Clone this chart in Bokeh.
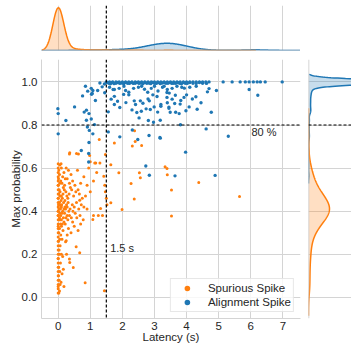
import numpy as np
from bokeh.plotting import figure
from bokeh.models import Span, Label, Legend, LegendItem, Range1d, FixedTicker, NumeralTickFormatter
from bokeh.layouts import column, row
from bokeh.embed import file_html
from bokeh.resources import INLINE

# ---------------- data ----------------
# spurious spikes scattered in the plane (one spike each)
spur_x = [
    0.02, 0.04, 0.0, 0.06, 0.03, 0.09, 0.01, 0.12, 0.05, 0.02, 0.07, 0.0, 0.04, 0.1, 0.03, 0.06, 0.01, 0.05, 0.08, 0.02,
    0.04, 0.0, 0.07, 0.03, 0.0, 0.05, 0.02, 0.08, 0.01, 0.04, 0.0, 0.06, 0.02, 0.03, 0.0, 0.05, 0.01, 0.04, 0.02, 0.0,
    0.1, 0.18, 0.25, 0.32, 0.14, 0.4, 0.6, 0.22, 0.8,
    0.08, 0.12, 0.2, 0.28, 0.35, 0.45, 0.52, 0.7, 0.16, 0.38, 0.9, 0.62,
    0.06, 0.1, 0.15, 0.19, 0.24, 0.3, 0.34, 0.42, 0.48, 0.55, 0.66, 0.75, 0.13, 0.27, 0.85, 1.0, 0.09, 0.21,
    0.05, 0.11, 0.17, 0.21, 0.26, 0.31, 0.37, 0.44, 0.5, 0.57, 0.64, 0.72, 0.8, 0.07, 0.14, 0.23, 0.33, 0.46, 0.9, 0.1, 0.18, 0.28,
    0.04, 0.08, 0.12, 0.16, 0.2, 0.28, 0.35, 0.41, 0.53, 0.68, 0.06, 0.18, 0.3, 0.45, 0.58, 0.78, 0.1, 0.24,
    0.1, 0.15, 0.22, 0.32, 0.5, 0.4, 0.62, 0.28, 0.7, 0.13,
    0.23, 0.56, 0.67, 0.35, 0.36, 0.47, 0.84, 1.44, 0.25, 0.14, 0.18, 0.26, 0.12, 0.16,
    1.17, 1.3, 1.64, 1.89, 2.53, 2.56, 3.4, 3.33, 3.39, 2.27, 2.37, 1.99, 1.64, 1.42, 1.45, 1.47, 1.5, 1.52, 1.32, 1.1,
    1.25, 1.38, 1.08, 0.67, 4.38, 3.53, 5.65, 3.53, 0.36, 0.98, 0.63, 1.47, 1.28, 1.75, 2.4, 2.31, 2.6, 2.38, 1.0, 1.2,
    1.1, 0.95, 0.57, 1.14, 0.05, 0.09, 0.35,
]
spur_y = [
    0.02, 0.03, 0.05, 0.06, 0.08, 0.07, 0.1, 0.11, 0.12, 0.14, 0.16, 0.18, 0.2, 0.2, 0.22, 0.24, 0.26, 0.27, 0.29, 0.3,
    0.32, 0.33, 0.34, 0.36, 0.38, 0.39, 0.41, 0.42, 0.43, 0.44, 0.46, 0.47, 0.48, 0.5, 0.52, 0.53, 0.55, 0.57, 0.59, 0.4,
    0.6, 0.58, 0.6, 0.59, 0.56, 0.57, 0.59, 0.55, 0.56,
    0.54, 0.53, 0.52, 0.55, 0.53, 0.54, 0.52, 0.53, 0.51, 0.51, 0.52, 0.5,
    0.49, 0.47, 0.48, 0.5, 0.49, 0.46, 0.48, 0.5, 0.47, 0.49, 0.48, 0.46, 0.46, 0.47, 0.47, 0.49, 0.45, 0.45,
    0.43, 0.43, 0.44, 0.42, 0.43, 0.44, 0.41, 0.43, 0.42, 0.44, 0.41, 0.43, 0.42, 0.41, 0.4, 0.41, 0.4, 0.4, 0.41, 0.42, 0.41, 0.42,
    0.37, 0.38, 0.39, 0.37, 0.39, 0.38, 0.38, 0.37, 0.39, 0.38, 0.36, 0.35, 0.36, 0.35, 0.37, 0.36, 0.36, 0.37,
    0.33, 0.31, 0.34, 0.32, 0.33, 0.3, 0.31, 0.29, 0.34, 0.34,
    0.258, 0.235, 0.207, 0.178, 0.162, 0.139, 0.068, 0.031, 0.263, 0.19, 0.05, 0.2, 0.27, 0.13,
    0.624, 0.624, 0.615, 0.578, 0.578, 0.555, 0.569, 0.606, 0.598, 0.529, 0.457, 0.408, 0.439, 0.562, 0.52, 0.49, 0.46, 0.43, 0.413, 0.38,
    0.38, 0.38, 0.362, 0.451, 0.533, 0.498, 0.468, 0.378, 0.671, 0.659, 0.665, 0.663, 0.733, 0.717, 0.723, 0.703, 0.705, 0.773, 0.63, 0.58,
    0.54, 0.6, 0.668, 0.624, 0.614, 0.62, 0.665,
]
# spurious spikes stacked at zero latency (probability, number of overlapping spikes)
stack_latency = 0.0
spur_stack_y = [0.02, 0.04, 0.06, 0.08, 0.10, 0.12, 0.14, 0.16, 0.18, 0.20, 0.22, 0.24, 0.26, 0.28, 0.30, 0.32,
                0.34, 0.36, 0.38, 0.40, 0.42, 0.44, 0.46, 0.48, 0.50, 0.52, 0.54, 0.56, 0.58, 0.60, 0.62]
spur_stack_n = [5, 5, 5, 5, 6, 6, 6, 6, 8, 10, 11, 13, 16, 22, 32, 45,
                61, 80, 99, 112, 112, 99, 83, 64, 48, 35, 26, 19, 14, 10, 6]

# alignment spikes scattered in the plane (one spike each)
align_x = [
    0.85, 1.03, 1.08, 0.76, 1.04, 1.23, 1.37, 1.45, 1.16, -0.01, 0.0, 0.51, 0.81, 0.88, 0.96, 1.03, 0.88, 0.24, 1.13, 0.91,
    0.97, 1.08, 0.0, 0.96, 0.72, 1.44, 1.3, 0.95, 0.95, 0.92, 1.06,
    1.52, 1.58, 1.63, 1.68, 1.74, 1.8, 1.86, 1.92, 1.98, 2.04, 2.1, 2.16, 2.22, 2.28, 2.34, 2.4, 2.46, 2.52, 2.58, 2.64,
    2.7, 2.76, 2.82, 2.88, 2.94, 3.0, 3.06, 3.12, 3.18, 3.24, 3.3, 3.36, 3.42, 3.48, 3.54, 3.6, 3.66, 3.72, 3.78, 3.84,
    3.9, 3.96, 4.02, 4.1, 4.2, 4.3, 4.4, 4.5, 4.62,
    1.6, 1.75, 1.9, 2.05, 2.2, 2.35, 2.5, 2.69, 2.79, 2.9, 3.11, 3.25, 3.4, 3.55, 3.7, 3.93, 4.1, 4.3, 4.7, 4.93,
    5.95, 1.71, 2.6, 3.0, 3.85, 2.1, 3.3,
    1.56, 1.75, 1.92, 1.75, 2.04, 2.11, 2.37, 2.41, 2.45, 2.56, 2.59, 2.64, 2.8, 2.52, 2.74, 2.87, 2.84, 2.97, 2.81, 2.99,
    3.08, 3.18, 3.2, 3.39, 3.45, 3.46, 4.29, 4.18, 4.45, 4.33, 4.08, 3.98, 3.92, 3.82, 3.8, 3.65, 3.63, 3.66, 3.77, 3.49,
    3.4, 3.45, 3.2, 3.39, 4.65, 4.77, 6.22, 2.2, 1.65, 2.95, 3.55, 4.0, 2.3, 3.1, 1.85,
    1.56, 1.92, 3.17, 2.83, 2.31, 2.48, 3.81, 4.61, 5.3, 3.97, 3.18, 2.73, 2.84, 3.64, 4.89,
]
align_y = [
    0.98, 0.97, 0.96, 0.935, 0.943, 0.96, 0.977, 0.95, 0.914, 0.876, 0.853, 0.884, 0.86, 0.869, 0.853, 0.828, 0.822, 0.821, 0.802, 0.791,
    0.775, 0.759, 0.759, 0.719, 0.682, 0.99, 0.995, 0.668, 0.628, 0.957, 0.946,
    0.997, 0.994, 0.991, 0.997, 0.992, 0.994, 0.997, 0.993, 0.995, 0.991, 0.997, 0.994, 0.993, 0.997, 0.993, 0.994, 0.997, 0.993, 0.995, 0.991,
    0.997, 0.994, 0.995, 0.992, 0.997, 0.994, 0.993, 0.997, 0.992, 0.995, 0.997, 0.994, 0.994, 0.997, 0.993, 0.994, 0.994, 0.997, 0.994, 0.991,
    0.997, 0.994, 0.993, 0.997, 0.994, 0.993, 0.997, 0.994, 0.993,
    0.975, 0.965, 0.97, 0.98, 0.952, 0.97, 0.975, 0.966, 0.952, 0.97, 0.958, 0.975, 0.965, 0.97, 0.98, 0.971, 0.975, 0.98, 0.969, 0.96,
    0.965, 0.965, 0.98, 0.98, 0.975, 0.96, 0.98,
    0.861, 0.933, 0.881, 0.895, 0.942, 0.904, 0.912, 0.895, 0.858, 0.912, 0.864, 0.901, 0.921, 0.833, 0.875, 0.872, 0.912, 0.813, 0.821, 0.884,
    0.932, 0.822, 0.895, 0.928, 0.883, 0.948, 0.931, 0.921, 0.903, 0.873, 0.884, 0.866, 0.928, 0.914, 0.897, 0.938, 0.9, 0.859, 0.853, 0.859,
    0.903, 0.878, 0.887, 0.951, 0.954, 0.859, 0.938, 0.94, 0.92, 0.94, 0.92, 0.94, 0.87, 0.86, 0.91,
    0.768, 0.745, 0.742, 0.751, 0.777, 0.733, 0.801, 0.782, 0.748, 0.674, 0.739, 0.61, 0.567, 0.564, 0.566,
]
# alignment spikes stacked at the maximum probability (latency, number of overlapping spikes)
sat_prob = 1.0
align_sat_x = [1.5, 1.6, 1.7, 1.8, 1.9, 2.0, 2.1, 2.2, 2.3, 2.4, 2.5, 2.6, 2.7, 2.8, 2.9, 3.0, 3.1, 3.2, 3.3, 3.4,
               3.5, 3.6, 3.7, 3.8, 3.9, 4.0, 4.1, 4.2, 4.3, 4.4, 4.5, 4.6, 4.7,
               5.14, 5.42, 5.67, 5.83, 5.95, 6.08, 6.2, 6.3, 6.45, 6.98]
align_sat_n = [2, 2, 2, 2, 2, 3, 3, 5, 6, 8, 11, 16, 19, 24, 29, 35, 38, 42, 45, 45,
               45, 42, 38, 34, 29, 24, 19, 14, 11, 8, 5, 3, 2,
               2, 2, 3, 3, 5, 6, 8, 6, 5, 3]

x_ticks = [0, 1, 2, 3, 4, 5, 6, 7]
y_ticks = [0.0, 0.2, 0.4, 0.6, 0.8, 1.0]
latency_threshold = 1.5
prob_threshold = 0.8
labels = ["Spurious Spike", "Alignment Spike"]

# ---------------- style ----------------
ORANGE = "#ff7f0e"
BLUE = "#1f77b4"
GRID = "#d4d4d4"
TXT = "#262626"
FONT = "Liberation Sans"
X_RANGE = (-0.52, 7.55)
Y_RANGE = (-0.098, 1.104)

# ---------------- combine ----------------
o_x = np.array(spur_x + [stack_latency] * len(spur_stack_y), float)
o_y = np.array(spur_y + spur_stack_y, float)
o_w = np.array([1] * len(spur_x) + spur_stack_n, float)
b_x = np.array(align_x + align_sat_x, float)
b_y = np.array(align_y + [sat_prob] * len(align_sat_x), float)
b_w = np.array([1] * len(align_x) + align_sat_n, float)
n_total = o_w.sum() + b_w.sum()


def kde(values, weights, bw):
    grid = np.linspace(values.min() - 3 * bw, values.max() + 3 * bw, 500)
    k = np.exp(-0.5 * ((grid[:, None] - values[None, :]) / bw) ** 2)
    dens = (k * weights[None, :]).sum(axis=1) / (bw * np.sqrt(2 * np.pi)) / n_total
    return grid, dens


gx_o, dx_o = kde(o_x, o_w, 0.17)
gx_b, dx_b = kde(b_x, b_w, 0.28)
gy_o, dy_o = kde(o_y, o_w, 0.035)
gy_b, dy_b = kde(b_y, b_w, 0.012)


def style_fig(f):
    f.outline_line_color = None
    f.background_fill_color = "white"
    f.border_fill_color = "white"


# ---------------- main scatter ----------------
p = figure(frame_width=259, frame_height=259, x_range=Range1d(*X_RANGE), y_range=Range1d(*Y_RANGE),
           output_backend="svg", toolbar_location=None,
           min_border_left=41, min_border_right=8, min_border_top=0, min_border_bottom=26)
style_fig(p)
p.xaxis.ticker = FixedTicker(ticks=x_ticks)
p.yaxis.ticker = FixedTicker(ticks=y_ticks)
p.yaxis.formatter = NumeralTickFormatter(format="0.0")
for ax in (p.xaxis[0], p.yaxis[0]):
    ax.axis_line_color = GRID
    ax.axis_line_width = 1
    ax.major_tick_line_color = None
    ax.minor_tick_line_color = None
    ax.major_tick_out = 0
    ax.major_tick_in = 0
    ax.major_label_text_font = FONT
    ax.major_label_text_font_size = "11.5px"
    ax.major_label_text_color = TXT
    ax.axis_label_text_font = FONT
    ax.axis_label_text_font_size = "11.5px"
    ax.axis_label_text_font_style = "normal"
    ax.axis_label_text_color = TXT
p.xaxis.axis_label = "Latency (s)"
p.yaxis.axis_label = "Max probability"
p.xaxis.major_label_standoff = 3
p.xaxis.axis_label_standoff = -2
p.yaxis.major_label_standoff = 4
p.yaxis.axis_label_standoff = -3
p.xgrid.grid_line_color = GRID
p.ygrid.grid_line_color = GRID

r_o = p.scatter(o_x, o_y, size=3.0, color=ORANGE, line_color=None)
r_b = p.scatter(b_x, b_y, size=3.4, color=BLUE, line_color=None)

p.add_layout(Span(location=latency_threshold, dimension="height", line_color="black",
                  line_dash="3 2", line_width=1.2))
p.add_layout(Span(location=prob_threshold, dimension="width", line_color="black",
                  line_dash="3 2", line_width=1.2))
p.add_layout(Label(x=latency_threshold + 0.12, y=0.23, text=f"{latency_threshold} s", text_font=FONT,
                   text_font_size="11px", text_color=TXT, text_baseline="middle"))
p.add_layout(Label(x=6.02, y=0.767, text=f"{int(prob_threshold * 100)} %", text_font=FONT,
                   text_font_size="11px", text_color=TXT, text_baseline="middle"))

legend = Legend(items=[LegendItem(label=labels[0], renderers=[r_o]),
                       LegendItem(label=labels[1], renderers=[r_b])],
                location="bottom_right", margin=6, padding=2, spacing=0,
                glyph_width=28, glyph_height=14, label_height=14, label_standoff=7,
                label_text_font=FONT, label_text_font_size="11.5px", label_text_color=TXT,
                border_line_color="#d0d0d0", border_line_width=1,
                background_fill_color="white", background_fill_alpha=0.8)
p.add_layout(legend)

# ---------------- top marginal ----------------
top = figure(frame_width=259, frame_height=45, x_range=p.x_range, y_range=Range1d(0, dx_o.max() * 45 / 42.7),
             output_backend="svg", toolbar_location=None,
             min_border_left=41, min_border_right=0, min_border_top=5, min_border_bottom=9)
style_fig(top)
top.xaxis.visible = False
top.yaxis.visible = False
top.xgrid.ticker = FixedTicker(ticks=x_ticks)
top.xgrid.grid_line_color = GRID
top.ygrid.grid_line_color = None
top.varea(x=gx_b, y1=0, y2=dx_b, fill_color=BLUE, fill_alpha=0.25)
top.line(gx_b, dx_b, line_color=BLUE, line_width=1.5)
top.varea(x=gx_o, y1=0, y2=dx_o, fill_color=ORANGE, fill_alpha=0.25)
top.line(gx_o, dx_o, line_color=ORANGE, line_width=1.5)
top.add_layout(Span(location=0, dimension="width", line_color="#b0bcc8", line_width=1.5))
top.add_layout(Span(location=latency_threshold, dimension="height", line_color="black",
                    line_dash="3 2", line_width=1.2))

# ---------------- right marginal ----------------
right = figure(frame_width=43, frame_height=259, y_range=p.y_range, x_range=Range1d(0, dy_o.max() * 43 / 21),
               output_backend="svg", toolbar_location=None,
               min_border_left=0, min_border_right=0, min_border_top=0, min_border_bottom=26)
style_fig(right)
right.xaxis.visible = False
right.yaxis.visible = False
right.ygrid.ticker = FixedTicker(ticks=y_ticks)
right.ygrid.grid_line_color = GRID
right.xgrid.grid_line_color = None
right.harea(y=gy_b, x1=0, x2=dy_b, fill_color=BLUE, fill_alpha=0.25)
right.line(dy_b, gy_b, line_color=BLUE, line_width=1.5)
right.harea(y=gy_o, x1=0, x2=dy_o, fill_color=ORANGE, fill_alpha=0.25)
right.line(dy_o, gy_o, line_color=ORANGE, line_width=1.5)
right.add_layout(Span(location=0, dimension="height", line_color="#c8c8c8", line_width=1.5))
right.add_layout(Span(location=prob_threshold, dimension="width", line_color="black",
                      line_dash="3 2", line_width=1.2))

layout = column(top, row(p, right))
open("out.html", "w").write(file_html(layout, INLINE))
